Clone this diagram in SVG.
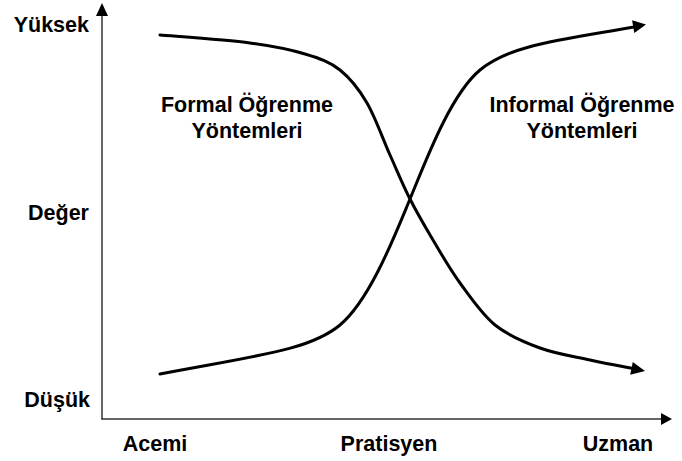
<svg xmlns="http://www.w3.org/2000/svg" width="682" height="461" viewBox="0 0 682 461">
<style>
text{font-family:"Liberation Sans",Arial,sans-serif;font-size:21.5px;font-weight:bold;fill:#000}
.axis{stroke:#333;stroke-width:1.5;fill:none}
.curve{stroke:#000;stroke-width:3;fill:none;stroke-linecap:round;stroke-linejoin:round}
.head{fill:#000}
</style>
<rect width="682" height="461" fill="#fff"/>
<g id="axes">
<line class="axis" x1="102" y1="419.5" x2="102" y2="14"/>
<polygon class="head" points="102,3 96,16 108,16"/>
<line class="axis" x1="101.5" y1="419" x2="662" y2="419"/>
<polygon class="head" points="672,419 661,413 661,425"/>
</g>
<g id="connectors">
<path id="formal-curve" class="curve" d="M160,35 C175,36.3 225.8,39.8 250,43 C274.2,46.2 290,49.5 305,54 C320,58.5 329.7,61.8 340,70 C350.3,78.2 358.7,88.8 367,103 C375.3,117.2 382.8,139 390,155 C397.2,171 402.8,184.8 410,199 C417.2,213.2 424.7,226 433,240 C441.3,254 449.7,268.8 460,283 C470.3,297.2 481.7,314.2 495,325 C508.3,335.8 524.2,342.2 540,348 C555.8,353.8 572.5,356.2 590,360 C605.5,363.4 625.8,367.1 633,368.5"/>
<polygon class="head" points="645,371 630.2,374.7 632.8,361.9"/>
<path id="informal-curve" class="curve" d="M160,374 C260,355 310,350 340,325 C370,300 395,235 410,199 C425,163 450,95 480,70 C510,45 560,40 634,27"/>
<polygon class="head" points="646,24.5 634.3,33.1 632.1,20.3"/>
</g>
<g id="label-yuksek"><text x="89" y="32" text-anchor="end">Yüksek</text></g>
<g id="label-deger"><text x="89" y="220" text-anchor="end">Değer</text></g>
<g id="label-dusuk"><text x="90" y="407" text-anchor="end">Düşük</text></g>
<g id="label-acemi"><text x="155" y="451" text-anchor="middle">Acemi</text></g>
<g id="label-pratisyen"><text x="389" y="451" text-anchor="middle">Pratisyen</text></g>
<g id="label-uzman"><text x="618" y="451" text-anchor="middle">Uzman</text></g>
<g id="label-formal"><text x="247" y="112" text-anchor="middle">Formal Öğrenme</text><text x="247" y="138" text-anchor="middle">Yöntemleri</text></g>
<g id="label-informal"><text x="582" y="112" text-anchor="middle">Informal Öğrenme</text><text x="582" y="138" text-anchor="middle">Yöntemleri</text></g>
</svg>
